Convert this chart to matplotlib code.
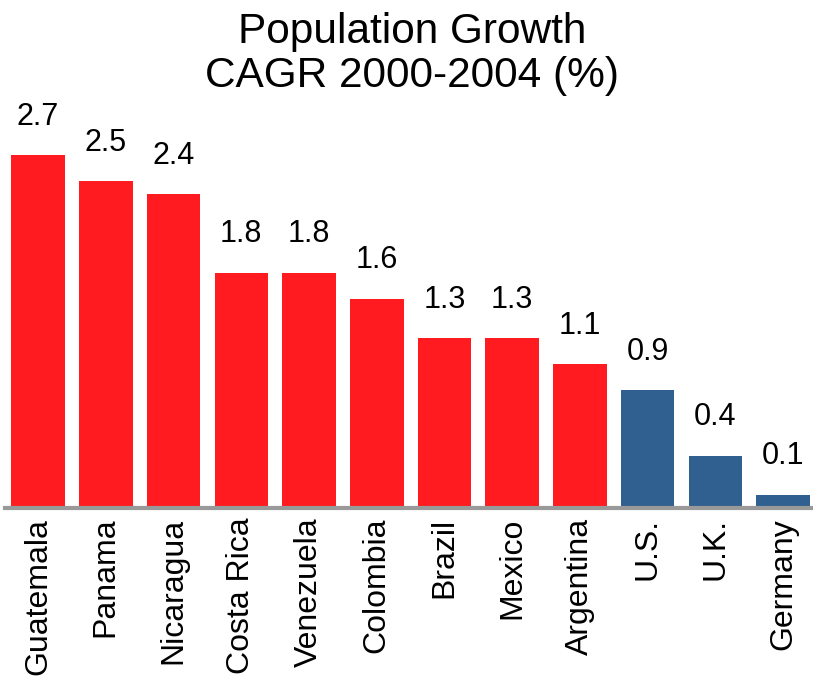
import matplotlib.pyplot as plt
import numpy as np

plt.rcParams['font.family'] = ['Liberation Sans', 'DejaVu Sans']

countries = ['Guatemala', 'Panama', 'Nicaragua', 'Costa Rica', 'Venezuela',
             'Colombia', 'Brazil', 'Mexico', 'Argentina', 'U.S.', 'U.K.', 'Germany']
growth = [2.7, 2.5, 2.4, 1.8, 1.8, 1.6, 1.3, 1.3, 1.1, 0.9, 0.4, 0.1]
latam = [True] * 9 + [False] * 3

red = '#FF1B1F'
blue = '#30608F'

fig = plt.figure(figsize=(8.13, 6.79), dpi=100)
ax = fig.add_axes([0.006, 0.2518, 0.994, 0.748])

x = np.arange(len(countries))
colors = [red if l else blue for l in latam]
bars = ax.bar(x, growth, width=0.79, color=colors)

for xi, v in zip(x, growth):
    ax.annotate('%.1f' % v, (xi, v), xytext=(0, 17), textcoords='offset points',
                ha='center', va='bottom', fontsize=22)

ax.set_xlim(-0.49, 11.44)
ax.set_ylim(0, 3.887)
ax.set_xticks(x)
ax.set_xticklabels(countries, rotation=90, fontsize=23, va='top')
ax.tick_params(axis='x', length=0, pad=7)
ax.set_yticks([])
for s in ['top', 'left', 'right']:
    ax.spines[s].set_visible(False)
ax.spines['bottom'].set_color('#999999')
ax.spines['bottom'].set_linewidth(3)

fig.text(0.507, 0.982, 'Population Growth\nCAGR 2000-2004 (%)', ha='center', va='top',
         fontsize=30.5, linespacing=1.12)

fig.savefig('out.png', dpi=100)
